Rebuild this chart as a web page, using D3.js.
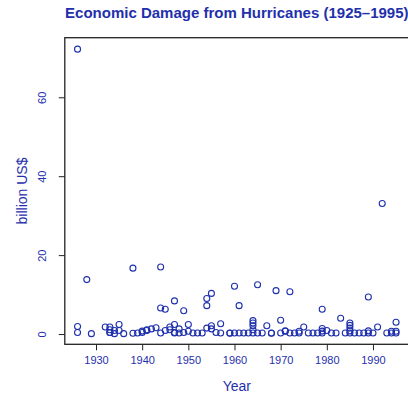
<!DOCTYPE html>
<html>
<head>
<meta charset="utf-8">
<script src="https://cdn.jsdelivr.net/npm/d3@7"></script>
<style>
  html, body { margin: 0; padding: 0; background: #fff; }
  svg { display: block; }
</style>
</head>
<body>
<svg id="chart" width="408" height="394"></svg>
<script>
// Normalised hurricane damage, one entry per storm (billion US$)
const years = [
  1926, 1926, 1926, 1928, 1929, 1932, 1933, 1933, 1933, 1933,
  1934, 1934, 1935, 1935, 1936, 1938, 1938, 1939, 1940, 1940,
  1941, 1941, 1942, 1943, 1944, 1944, 1944, 1945, 1945, 1946,
  1946, 1947, 1947, 1947, 1947, 1948, 1948, 1949, 1949, 1950,
  1950, 1951, 1952, 1953, 1954, 1954, 1954, 1955, 1955, 1955,
  1956, 1957, 1957, 1959, 1959, 1960, 1960, 1961, 1961, 1962,
  1963, 1964, 1964, 1964, 1964, 1964, 1965, 1965, 1966, 1967,
  1968, 1968, 1969, 1970, 1970, 1971, 1971, 1972, 1972, 1973,
  1974, 1974, 1975, 1976, 1977, 1978, 1979, 1979, 1979, 1979,
  1980, 1981, 1982, 1983, 1984, 1985, 1985, 1985, 1985, 1985,
  1986, 1987, 1988, 1989, 1989, 1989, 1990, 1991, 1992, 1993,
  1994, 1994, 1995, 1995, 1995
];
const damage = [
  72.2, 1.9, 0.4, 13.8, 0.1, 1.8, 1.8, 1.1, 0.4, 0.4,
  0.1, 0.9, 2.4, 0.9, 0.1, 16.7, 0.2, 0.25, 0.75, 0.4,
  0.9, 1.1, 1.3, 1.6, 17.0, 6.6, 0.25, 6.3, 0.9, 1.8,
  1.1, 8.4, 2.4, 0.4, 0.25, 1.3, 0.25, 5.9, 0.4, 2.4,
  0.7, 0.25, 0.25, 0.25, 9.0, 7.2, 1.5, 10.3, 2.1, 1.3,
  0.4, 2.6, 0.25, 0.25, 0.2, 12.1, 0.25, 7.2, 0.25, 0.25,
  0.25, 3.4, 2.8, 2.1, 1.1, 0.25, 12.5, 0.25, 0.25, 2.1,
  0.25, 0.2, 11.0, 3.5, 0.25, 0.8, 0.7, 10.7, 0.25, 0.25,
  0.7, 0.25, 1.8, 0.25, 0.25, 0.25, 6.3, 1.4, 0.75, 0.25,
  0.9, 0.25, 0.25, 4.0, 0.25, 2.8, 2.2, 1.5, 0.8, 0.25,
  0.25, 0.25, 0.25, 9.4, 0.8, 0.25, 0.25, 1.8, 33.1, 0.25,
  0.25, 0.7, 3.0, 0.7, 0.25
];
const xTicks = [1930, 1940, 1950, 1960, 1970, 1980, 1990];
const yTicks = [0, 20, 40, 60];

const titleText = "Economic Damage from Hurricanes (1925\u20131995)";
const xLabel = "Year";
const yLabel = "billion US$";

const ink = "#1f30ac";
const font = "'Liberation Sans', Arial, Helvetica, sans-serif";

const svg = d3.select("#chart");

// plot region
const plotLeft = 64.8, plotRight = 408.8, plotTop = 37.7, plotBottom = 344.3;

const x = d3.scaleLinear().domain([1923.24, 1997.76]).range([plotLeft, plotRight]);
const y = d3.scaleLinear().domain([-2.6, 75.1]).range([plotBottom, plotTop]);

const points = years.map((yr, i) => ({ year: yr, value: damage[i] }));

// frame around the plotting area
svg.append("rect")
  .attr("x", plotLeft).attr("y", plotTop)
  .attr("width", plotRight - plotLeft).attr("height", plotBottom - plotTop)
  .attr("fill", "none").attr("stroke", "#222").attr("stroke-width", 1.3);

// x axis
const xAxis = svg.append("g")
  .attr("transform", `translate(0,${plotBottom})`)
  .call(d3.axisBottom(x).tickValues(xTicks).tickFormat(d3.format("d")).tickSize(6).tickPadding(6));
xAxis.select(".domain").remove();
xAxis.selectAll(".tick line").attr("stroke", "#222");
xAxis.selectAll(".tick text")
  .attr("fill", ink).attr("font-family", font).attr("font-size", 11);

// y axis, labels turned to read upwards
const yAxis = svg.append("g")
  .attr("transform", `translate(${plotLeft},0)`)
  .call(d3.axisLeft(y).tickValues(yTicks).tickSize(6).tickFormat(d3.format("d")));
yAxis.select(".domain").remove();
yAxis.selectAll(".tick line").attr("stroke", "#222");
yAxis.selectAll(".tick text")
  .attr("fill", ink).attr("font-family", font).attr("font-size", 11)
  .attr("x", null).attr("dy", null)
  .attr("text-anchor", "middle")
  .attr("transform", "translate(-19,0) rotate(-90)");

// storms
svg.append("g")
  .selectAll("circle")
  .data(points)
  .join("circle")
  .attr("cx", d => x(d.year))
  .attr("cy", d => y(d.value))
  .attr("r", 3)
  .attr("fill", "none")
  .attr("stroke", ink)
  .attr("stroke-width", 1.1);

// titles
svg.append("text")
  .attr("x", (plotLeft + plotRight) / 2).attr("y", 18)
  .attr("text-anchor", "middle")
  .attr("font-family", font).attr("font-weight", "bold").attr("font-size", 15)
  .attr("fill", ink)
  .text(titleText);

svg.append("text")
  .attr("x", (plotLeft + plotRight) / 2).attr("y", 391)
  .attr("text-anchor", "middle")
  .attr("font-family", font).attr("font-size", 14)
  .attr("fill", ink)
  .text(xLabel);

svg.append("text")
  .attr("transform", `translate(27,${(plotTop + plotBottom) / 2}) rotate(-90)`)
  .attr("text-anchor", "middle")
  .attr("font-family", font).attr("font-size", 14)
  .attr("fill", ink)
  .text(yLabel);
</script>
</body>
</html>
